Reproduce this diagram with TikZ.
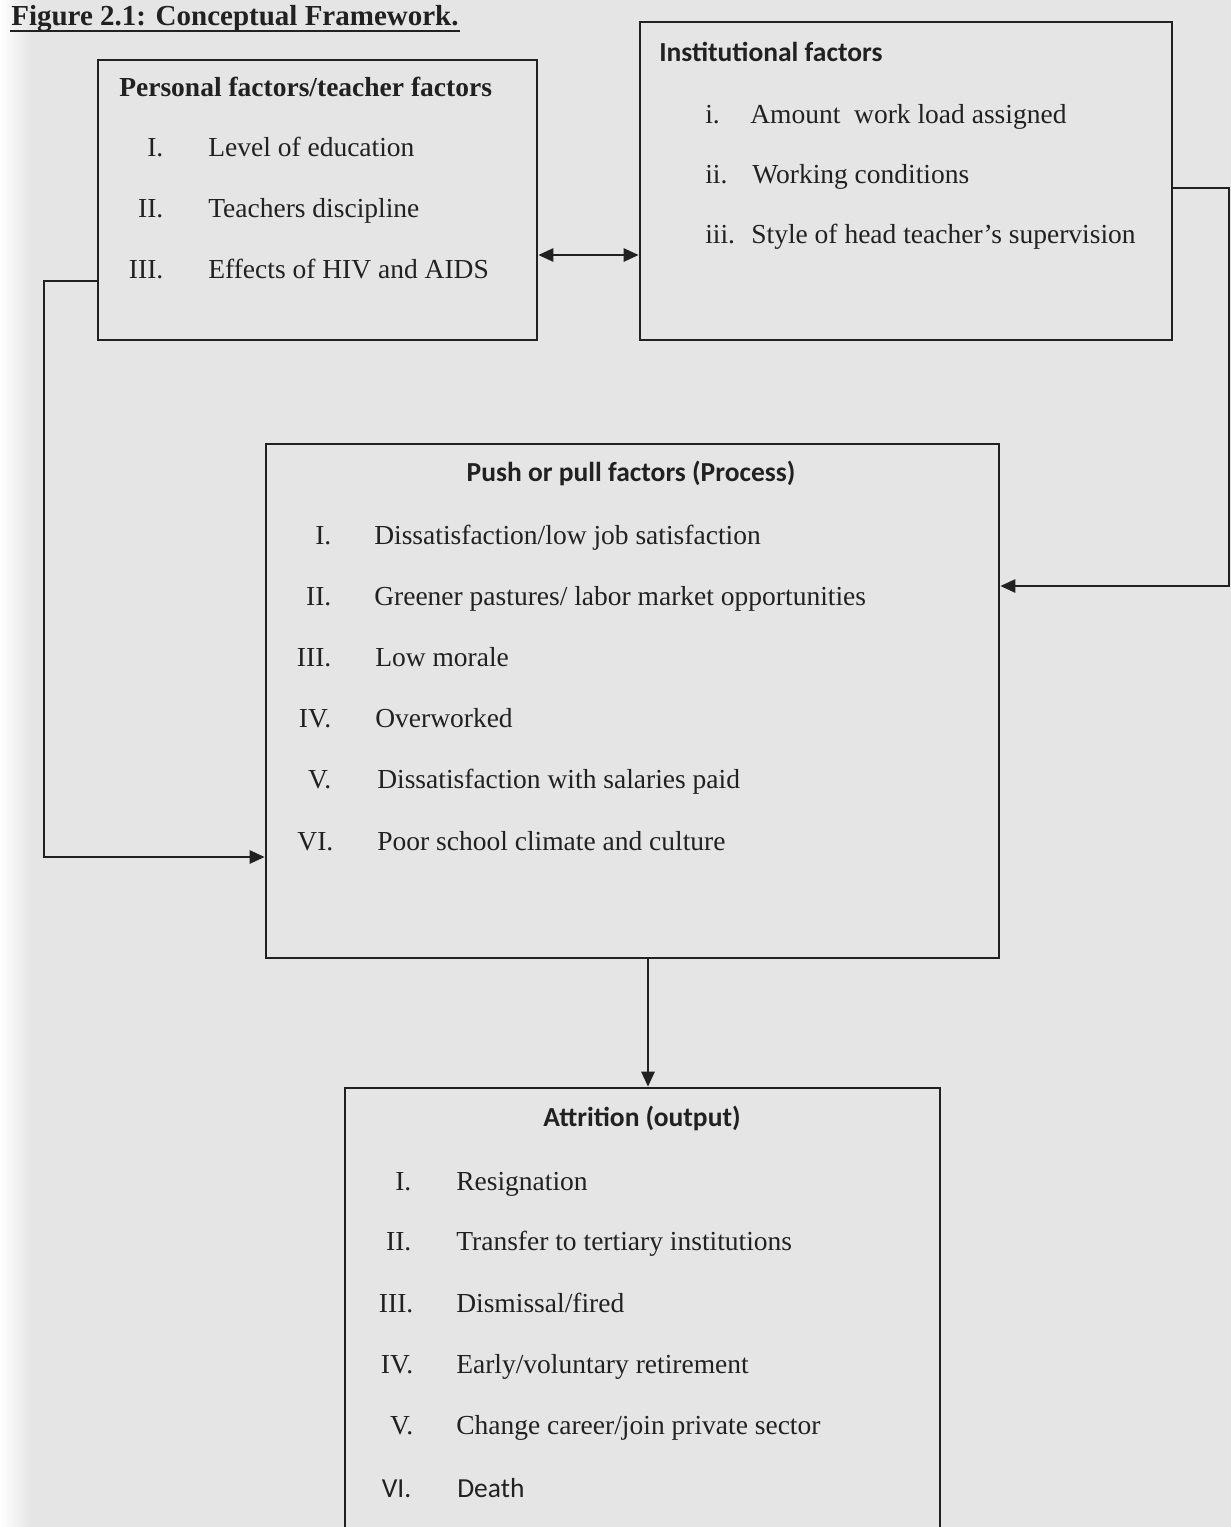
\documentclass[tikz,border=0pt]{standalone}
\usepackage{fontspec}
\setmainfont{Liberation Serif}
\newfontfamily\calfont{Carlito}
\usepackage{xcolor}
\usetikzlibrary{arrows,arrows.meta}

\definecolor{paper}{gray}{0.9}
\definecolor{ink}{gray}{0.13}

\begin{document}
\begin{tikzpicture}[>={Triangle[length=15pt,width=13pt]},line width=2.6pt,
                    x=1pt,y=-1pt,
                    every node/.style={text=ink,font=\fontsize{27.5}{33}\selectfont},
                    box/.style={draw=ink,inner sep=0pt},
                    item/.style={anchor=base west,inner sep=0pt},
                    head/.style={anchor=base,inner sep=0pt,
                                 font=\fontsize{27.5}{33}\selectfont\calfont\bfseries}]

\useasboundingbox (0,0) rectangle (1231,1527);
\fill[paper] (0,0) rectangle (1231,1527);
\fill[left color=white,right color=paper] (0,0) rectangle (30,1527);
\clip (0,0) rectangle (1231,1527);

\draw node[item,font=\fontsize{29}{34}\selectfont\bfseries] (title) at (10,25)
           {Figure 2.1: Conceptual Framework.};
\draw[ink,line width=2pt] ([yshift=-6pt]title.base west) -- ([yshift=-6pt]title.base east);

% the four boxes
\draw node[box,minimum width=439pt,minimum height=280pt] (personal) at (317.5,200) {}
      node[box,minimum width=532pt,minimum height=318pt] (inst) at (906,181) {}
      node[box,minimum width=733pt,minimum height=514pt] (push) at (632.5,701) {}
      node[box,minimum width=595pt,minimum height=472pt] (attr) at (642.5,1324) {};

% personal factors
\draw node[item,anchor=base west,font=\fontsize{27.5}{33}\selectfont\bfseries] (ph) at (118,96)
           {Personal factors/teacher factors}
      node[item] (p1) at (207,156) {\llap{I.\hspace{45pt}}Level of education}
      node[item] (p2) at (207,217) {\llap{II.\hspace{45pt}}Teachers discipline}
      node[item] (p3) at (207,278) {\llap{III.\hspace{45pt}}Effects of HIV and AIDS};

% institutional factors
\draw node[head,anchor=base west] (ih) at (658,61) {Institutional factors}
      node[item] (i1) at (749,123) {\llap{\makebox[45pt][l]{i.}}Amount\ \ work load assigned}
      node[item] (i2) at (751,183) {\llap{\makebox[47pt][l]{ii.}}Working conditions}
      node[item] (i3) at (750,243) {\llap{\makebox[46pt][l]{iii.}}Style of head teacher’s supervision};

% process
\draw node[head] (qh) at (631,481) {Push or pull factors (Process)}
      node[item] (q1) at (373,544) {\llap{I.\hspace{43pt}}Dissatisfaction/low job satisfaction}
      node[item] (q2) at (373,605) {\llap{II.\hspace{43pt}}Greener pastures/ labor market opportunities}
      node[item] (q3) at (374,666) {\llap{III.\hspace{44pt}}Low morale}
      node[item] (q4) at (374,727) {\llap{IV.\hspace{44pt}}Overworked}
      node[item] (q5) at (376,788) {\llap{V.\hspace{46pt}}Dissatisfaction with salaries paid}
      node[item] (q6) at (376,850) {\llap{VI.\hspace{44pt}}Poor school climate and culture};

% output
\draw node[head] (ah) at (642,1126) {Attrition (output)}
      node[item] (a1) at (455,1190) {\llap{I.\hspace{45pt}}Resignation}
      node[item] (a2) at (455,1250) {\llap{II.\hspace{45pt}}Transfer to tertiary institutions}
      node[item] (a3) at (455,1312) {\llap{III.\hspace{43pt}}Dismissal/fired}
      node[item] (a4) at (455,1373) {\llap{IV.\hspace{43pt}}Early/voluntary retirement}
      node[item] (a5) at (455,1434) {\llap{V.\hspace{43pt}}Change career/join private sector}
      node[item] (a6) at (456,1497) {\calfont\llap{VI.\hspace{46pt}}Death};

% connectors
\coordinate (mid) at (588,255);
\coordinate (ltop) at (44,281);
\coordinate (lbot) at (44,857);
\coordinate (rtop) at (1229,188);
\coordinate (rbot) at (1229,586);
\coordinate (dn) at (648,1000);

\draw[<->,ink] (personal.east |- mid) -- (inst.west |- mid);
\draw[->,ink] (personal.west |- ltop) -- (ltop) -- (lbot) -- (push.west |- lbot);
\draw[->,ink] (inst.east |- rtop) -- (rtop) -- (rbot) -- (push.east |- rbot);
\draw[->,ink] (push.south -| dn) -- (attr.north -| dn);

\end{tikzpicture}
\end{document}
